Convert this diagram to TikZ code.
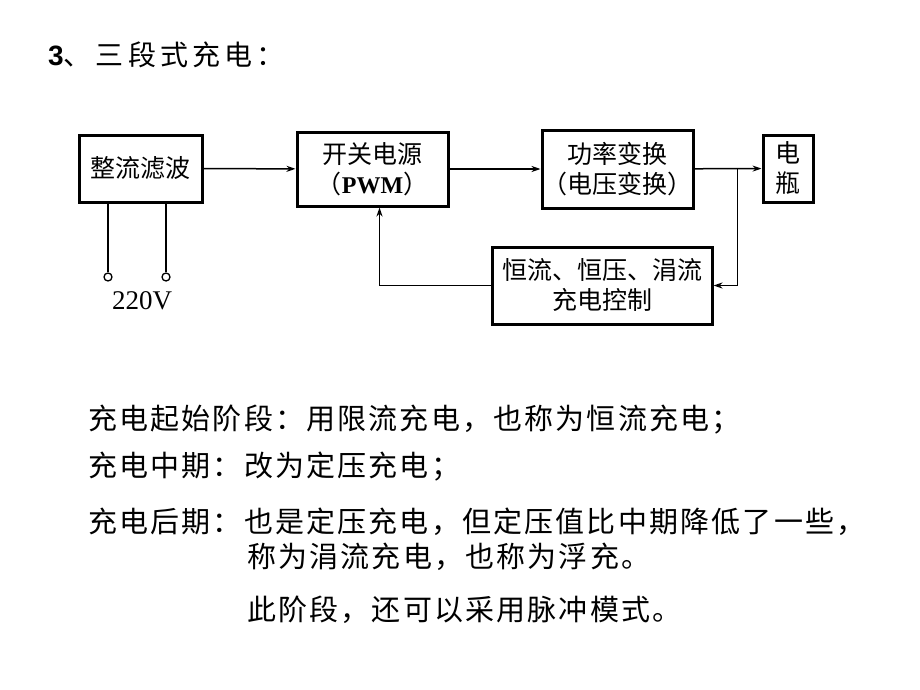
\documentclass[tikz,border=0pt]{standalone}
\usepackage{fontspec}
\setmainfont{Liberation Serif}
\newfontfamily\cjk{Noto Sans CJK SC}
\newfontfamily\cjkwide[LetterSpace=7.5]{Noto Sans CJK SC}
\newfontfamily\cjktitle[LetterSpace=15]{Noto Sans CJK SC}
\newfontfamily\arialb{Liberation Sans}
\usetikzlibrary{arrows.meta,positioning}

\begin{document}
\begin{tikzpicture}[x=1pt, y=-1pt, >={Stealth[length=9pt, width=6pt]},
  blk/.style={draw, line width=3pt, inner sep=0pt, align=center, font=\cjk\fontsize{25}{30}\selectfont},
  wire/.style={line width=1.5pt},
  term/.style={circle, draw, line width=1.3pt, inner sep=0pt, minimum size=8pt},
  txt/.style={anchor=west, inner sep=0pt, font=\cjkwide\fontsize{29}{30}\selectfont}]

\useasboundingbox (0,0) rectangle (920,690);

\node[anchor=west, inner sep=0pt] (title) at (48,55) {{\arialb\bfseries\fontsize{28}{28}\selectfont 3}{\cjktitle\fontsize{28}{28}\selectfont 、三段式充电：}};

% blocks
\node[blk, minimum width=123, minimum height=67] (rect) at (140.5,168.5) {整流滤波};
\node[blk, minimum width=151, minimum height=74] (pwm) at (372.5,169) {开关电源\\（{\rmfamily\bfseries\fontsize{24}{30}\selectfont PWM}）};
\node[blk, minimum width=151, minimum height=78] (conv) at (617.5,169) {功率变换\\（电压变换）};
\node[blk, minimum width=50, minimum height=67] (batt) at (788,168.5) {电\\瓶};
\node[blk, minimum width=220, minimum height=77] (ctrl) at (602,285.5) {恒流、恒压、涓流\\充电控制};

% mains input
\node[term] (ta) at (108,277) {};
\node[term] (tb) at (166,277) {};
\node[font=\fontsize{27}{27}\selectfont] (ac) at (142,301) {220V};

\coordinate[right=43pt of conv.east] (split);
\coordinate[left=111pt of ctrl.west] (fbcorner);

\path[wire, ->]
(rect) edge (pwm)
(pwm) edge (conv)
(conv) edge (batt)
;
\draw[wire, ->] (split) |- (ctrl.east);
\draw[wire, ->] (ctrl.west) -- (fbcorner) -- (fbcorner |- pwm.south);
\draw[wire] (ta) -- (ta |- rect.south);
\draw[wire] (tb) -- (tb |- rect.south);

% notes
\node[txt] (l1) at (88,420) {充电起始阶段：用限流充电，也称为恒流充电；};
\node[txt] (l2) at (88,467) {充电中期：改为定压充电；};
\node[txt] (l3) at (88,522) {充电后期：也是定压充电，但定压值比中期降低了一些，};
\node[txt] (l4) at (247,557) {称为涓流充电，也称为浮充。};
\node[txt] (l5) at (247,610) {此阶段，还可以采用脉冲模式。};

\end{tikzpicture}
\end{document}
